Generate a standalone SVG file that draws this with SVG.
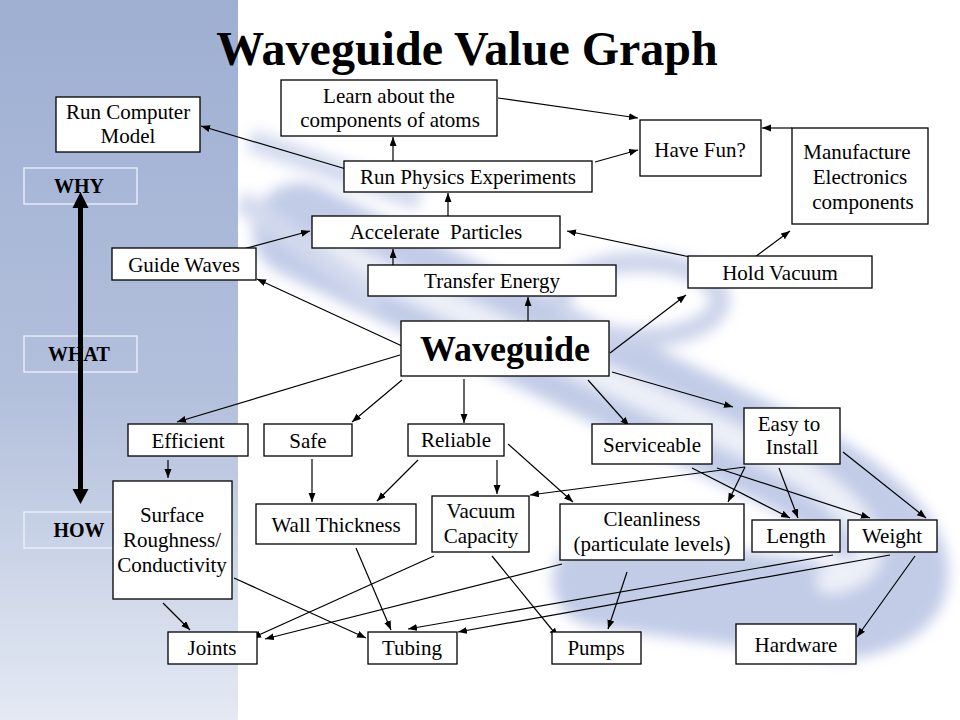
<svg xmlns="http://www.w3.org/2000/svg" width="960" height="720" viewBox="0 0 960 720">
<defs>
<linearGradient id="leftPanel" x1="0" y1="0" x2="0" y2="1">
<stop offset="0" stop-color="#9eafd2"/>
<stop offset="0.55" stop-color="#b3c0dc"/>
<stop offset="1" stop-color="#e4e9f3"/>
</linearGradient>
<filter id="blur" x="-20%" y="-20%" width="140%" height="140%"><feGaussianBlur stdDeviation="7"/></filter>
<marker id="ah" markerUnits="userSpaceOnUse" markerWidth="10" markerHeight="8" refX="9" refY="3.5" orient="auto">
<path d="M0,0 L9,3.5 L0,7 z" fill="#000"/>
</marker>
<style>
.box{fill:#fff;stroke:#000;stroke-width:1.3}
.lbl{fill:none;stroke:#eef2fa;stroke-width:1.3}
.t{font-family:"Liberation Serif","Times New Roman",serif;font-size:21px;fill:#000;text-anchor:middle}
.b{font-family:"Liberation Serif","Times New Roman",serif;font-weight:bold;fill:#000;text-anchor:middle}
.c line{stroke:#000;stroke-width:1.2;marker-end:url(#ah)}
</style>
</defs>

<g id="background">
<rect x="0" y="0" width="960" height="720" fill="#fff"/>
<g filter="url(#blur)" opacity="0.75">
<path d="M300,230 L780,460 C900,520 950,600 840,612 L600,580" fill="none" stroke="#aebbe0" stroke-width="95" stroke-linecap="round"/>
<path d="M330,250 L770,455 C870,505 900,570 830,580" fill="none" stroke="#e6ebf6" stroke-width="28" stroke-linecap="round"/>
<ellipse cx="640" cy="300" rx="80" ry="38" fill="none" stroke="#b9c4e3" stroke-width="20"/>
<path d="M250,140 L420,200 M240,200 L380,300" stroke="#c4cee8" stroke-width="22" fill="none"/>
</g>
<rect x="0" y="0" width="238" height="720" fill="url(#leftPanel)"/>
</g>

<text class="b" x="467" y="65" font-size="48">Waveguide Value Graph</text>

<g id="axis">
<rect id="why" class="lbl" x="24" y="168" width="113" height="36"/>
<rect id="what" class="lbl" x="24" y="336" width="113" height="36"/>
<rect id="how" class="lbl" x="24" y="512" width="113" height="36"/>
<text class="b" x="79" y="193" font-size="20">WHY</text>
<text class="b" x="79" y="361" font-size="20">WHAT</text>
<text class="b" x="79" y="537" font-size="20">HOW</text>
<line x1="80.5" y1="205" x2="80.5" y2="491" stroke="#000" stroke-width="5"/>
<path d="M80.5,192 L88.5,208 L72.5,208 z" fill="#000"/>
<path d="M80.5,504 L88.5,489 L72.5,489 z" fill="#000"/>
</g>

<g id="connectors" class="c">
<line x1="498" y1="98" x2="638" y2="118"/>
<line x1="595" y1="162" x2="638" y2="150"/>
<line x1="792" y1="128" x2="762" y2="128"/>
<line x1="346" y1="169" x2="201" y2="126"/>
<line x1="393" y1="161" x2="393" y2="137"/>
<line x1="448" y1="216" x2="448" y2="193"/>
<line x1="243" y1="249" x2="310" y2="231"/>
<line x1="393" y1="265" x2="393" y2="249"/>
<line x1="690" y1="257" x2="567" y2="231"/>
<line x1="755" y1="257" x2="790" y2="231"/>
<line x1="402" y1="346" x2="257" y2="279"/>
<line x1="528" y1="321" x2="528" y2="297"/>
<line x1="610" y1="353" x2="686" y2="295"/>
<line x1="612" y1="372" x2="733" y2="407"/>
<line x1="588" y1="380" x2="629" y2="426"/>
<line x1="464" y1="379" x2="464" y2="423"/>
<line x1="402" y1="380" x2="352" y2="422"/>
<line x1="400" y1="355" x2="177" y2="422"/>
<line x1="168" y1="460" x2="168" y2="478"/>
<line x1="312" y1="459" x2="312" y2="502"/>
<line x1="418" y1="460" x2="377" y2="501"/>
<line x1="497" y1="460" x2="497" y2="494"/>
<line x1="508" y1="444" x2="573" y2="502"/>
<line x1="745" y1="467" x2="530" y2="495"/>
<line x1="745" y1="467" x2="728" y2="502"/>
<line x1="779" y1="468" x2="798" y2="518"/>
<line x1="843" y1="452" x2="926" y2="518"/>
<line x1="692" y1="468" x2="790" y2="518"/>
<line x1="717" y1="468" x2="870" y2="518"/>
<line x1="163" y1="603" x2="190" y2="630"/>
<line x1="234" y1="578" x2="366" y2="638"/>
<line x1="356" y1="548" x2="391" y2="630"/>
<line x1="434" y1="556" x2="252" y2="638"/>
<line x1="562" y1="564" x2="265" y2="639"/>
<line x1="492" y1="556" x2="558" y2="637"/>
<line x1="627" y1="572" x2="608" y2="629"/>
<line x1="833" y1="555" x2="408" y2="629"/>
<line x1="890" y1="555" x2="458" y2="632"/>
<line x1="915" y1="556" x2="857" y2="637"/>
</g>

<g id="n-runcomputer"><rect class="box" x="56" y="97" width="144" height="55"/><text class="t" x="128" y="119">Run Computer</text><text class="t" x="128" y="143">Model</text></g>
<g id="n-learn"><rect class="box" x="281" y="80" width="216" height="56"/><text class="t" x="389" y="103">Learn about the</text><text class="t" x="390" y="127">components of atoms</text></g>
<g id="n-havefun"><rect class="box" x="640" y="120" width="121" height="56"/><text class="t" x="700" y="157">Have Fun?</text></g>
<g id="n-manufacture"><rect class="box" x="792" y="128" width="136" height="96"/><text class="t" x="857" y="159">Manufacture</text><text class="t" x="860" y="184">Electronics</text><text class="t" x="863" y="209">components</text></g>
<g id="n-runphysics"><rect class="box" x="344" y="161" width="248" height="31"/><text class="t" x="468" y="184">Run Physics Experiments</text></g>
<g id="n-accelerate"><rect class="box" x="312" y="216" width="248" height="32"/><text class="t" x="436" y="239" xml:space="preserve">Accelerate  Particles</text></g>
<g id="n-guidewaves"><rect class="box" x="112" y="248" width="144" height="32"/><text class="t" x="184" y="272">Guide Waves</text></g>
<g id="n-transfer"><rect class="box" x="368" y="265" width="248" height="31"/><text class="t" x="492" y="288">Transfer Energy</text></g>
<g id="n-holdvacuum"><rect class="box" x="688" y="256" width="184" height="32"/><text class="t" x="780" y="280">Hold Vacuum</text></g>
<g id="n-waveguide"><rect class="box" x="401" y="321" width="208" height="55"/><text class="b" x="505" y="361" font-size="36">Waveguide</text></g>
<g id="n-efficient"><rect class="box" x="128" y="424" width="120" height="32"/><text class="t" x="188" y="448">Efficient</text></g>
<g id="n-safe"><rect class="box" x="264" y="424" width="88" height="32"/><text class="t" x="308" y="448">Safe</text></g>
<g id="n-reliable"><rect class="box" x="408" y="424" width="96" height="32"/><text class="t" x="456" y="447">Reliable</text></g>
<g id="n-serviceable"><rect class="box" x="592" y="424" width="120" height="40"/><text class="t" x="652" y="452">Serviceable</text></g>
<g id="n-easy"><rect class="box" x="744" y="408" width="96" height="56"/><text class="t" x="789" y="431">Easy to</text><text class="t" x="792" y="454">Install</text></g>
<g id="n-surface"><rect class="box" x="113" y="481" width="119" height="118"/><text class="t" x="172" y="522">Surface</text><text class="t" x="172" y="547">Roughness/</text><text class="t" x="172" y="572">Conductivity</text></g>
<g id="n-wall"><rect class="box" x="256" y="504" width="160" height="40"/><text class="t" x="336" y="532">Wall Thickness</text></g>
<g id="n-vacuum"><rect class="box" x="432" y="496" width="97" height="56"/><text class="t" x="481" y="518">Vacuum</text><text class="t" x="481" y="543">Capacity</text></g>
<g id="n-cleanliness"><rect class="box" x="560" y="504" width="184" height="56"/><text class="t" x="652" y="526">Cleanliness</text><text class="t" x="652" y="551">(particulate levels)</text></g>
<g id="n-length"><rect class="box" x="752" y="520" width="88" height="32"/><text class="t" x="796" y="543">Length</text></g>
<g id="n-weight"><rect class="box" x="848" y="520" width="89" height="32"/><text class="t" x="892" y="543">Weight</text></g>
<g id="n-joints"><rect class="box" x="168" y="632" width="89" height="32"/><text class="t" x="212" y="655">Joints</text></g>
<g id="n-tubing"><rect class="box" x="368" y="632" width="89" height="32"/><text class="t" x="412" y="655">Tubing</text></g>
<g id="n-pumps"><rect class="box" x="552" y="632" width="89" height="32"/><text class="t" x="596" y="655">Pumps</text></g>
<g id="n-hardware"><rect class="box" x="736" y="624" width="120" height="40"/><text class="t" x="796" y="652">Hardware</text></g>
</svg>
